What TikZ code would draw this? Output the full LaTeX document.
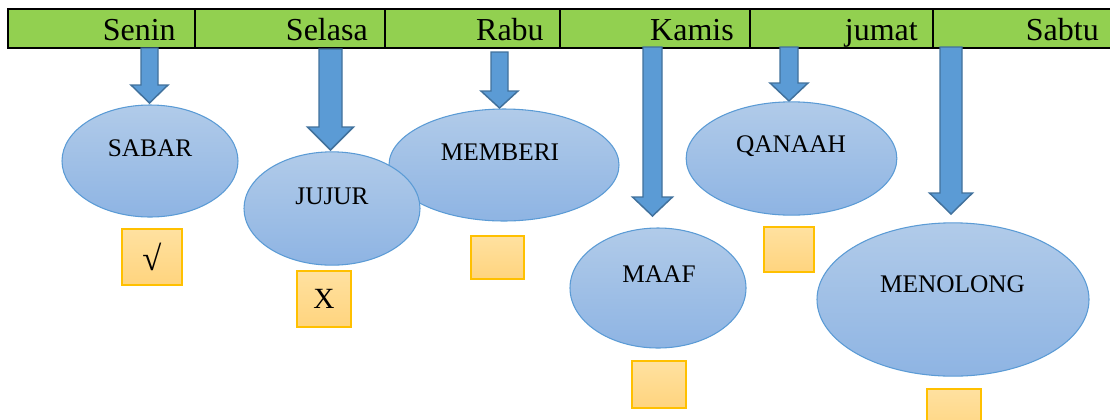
\documentclass[tikz,border=0pt]{standalone}
\usepackage{fontspec}
\setmainfont{Liberation Serif}
\usetikzlibrary{shapes.geometric}

\definecolor{barhijau}{HTML}{92D050}
\definecolor{panahbiru}{HTML}{5B9BD5}
\definecolor{panahtepi}{HTML}{41719C}
\definecolor{ovalatas}{HTML}{B1CBE9}
\definecolor{ovalbawah}{HTML}{8EB4E3}
\definecolor{ovaltepi}{HTML}{5B9BD5}
\definecolor{kotakatas}{HTML}{FFE1A0}
\definecolor{kotakbawah}{HTML}{FFD47E}
\definecolor{kotaktepi}{HTML}{FFC000}

% block arrow: x, top, head start, tip, half shaft, half head
\newcommand{\panah}[6]{%
  \draw[panahstyle] (#1-#5,#2) -- (#1+#5,#2) -- (#1+#5,#3) -- (#1+#6,#3)
    -- (#1,#4) -- (#1-#6,#3) -- (#1-#5,#3) -- cycle;}

\begin{document}
\begin{tikzpicture}[x=0.75pt, y=-0.75pt,
  oval/.style={ellipse, draw=ovaltepi, line width=0.8pt, top color=ovalatas, bottom color=ovalbawah, inner sep=0pt},
  kotak/.style={rectangle, draw=kotaktepi, line width=1.3pt, top color=kotakatas, bottom color=kotakbawah, inner sep=0pt, font=\fontsize{22}{26}\selectfont},
  hari/.style={anchor=base east, inner sep=0pt, font=\fontsize{24}{28}\selectfont},
  sifat/.style={inner sep=0pt, font=\fontsize{19}{23}\selectfont},
  panahstyle/.style={fill=panahbiru, draw=panahtepi, line width=1.1pt, line join=miter}]
  \useasboundingbox (0,0) rectangle (1110,419);
  \clip (0,0) rectangle (1110,419);

  % header bar
  \draw[fill=barhijau, line width=1.9pt] (8,9) rectangle (1130,48);
  \foreach \xd in {195,385,560,750,933}
    \draw[line width=1.9pt] (\xd,9) -- (\xd,48);
  \node[hari] (senin) at (176,40) {Senin};
  \node[hari] (selasa) at (368,40) {Selasa};
  \node[hari] (rabu) at (544,40) {Rabu};
  \node[hari] (kamis) at (734,40) {Kamis};
  \node[hari] (jumat) at (918,40) {jumat};
  \node[hari] (sabtu) at (1099,40) {Sabtu};

  % arrows
  \panah{149.5}{48}{85}{103}{8.5}{18.5}
  \panah{330.5}{49}{127}{150}{11.5}{23}
  \panah{499.5}{52}{91}{108}{8.5}{18.5}
  \panah{652.5}{47}{197}{216}{9.5}{20}
  \panah{789}{47}{83}{101}{9}{19}
  \panah{951}{47}{193}{214}{11}{21.5}

  % ovals
  \node[oval, minimum width=132pt, minimum height=84pt] (sabar) at (150,161) {};
  \node[oval, minimum width=172.5pt, minimum height=84pt] (memberi) at (504,165) {};
  \node[oval, minimum width=132pt, minimum height=85pt] (jujur) at (332,208.5) {};
  \node[oval, minimum width=132pt, minimum height=90pt] (maaf) at (658,288) {};
  \node[oval, minimum width=158pt, minimum height=85pt] (qanaah) at (791.5,158.5) {};
  \node[oval, minimum width=204pt, minimum height=115pt] (menolong) at (953,299.5) {};

  \node[sifat] (tsabar) at (150,148) {SABAR};
  \node[sifat] (tjujur) at (332,196.5) {JUJUR};
  \node[sifat] (tmemberi) at (500,152) {MEMBERI};
  \node[sifat] (tmaaf) at (659,274) {MAAF};
  \node[sifat] (tqanaah) at (791,146) {QANAAH};
  \node[sifat] (tmenolong) at (952.5,284) {MENOLONG};

  % check boxes
  \node[kotak, minimum width=45pt, minimum height=42pt, font=\fontsize{26}{30}\selectfont] (cek1) at (152,257) {√};
  \node[kotak, minimum width=40.5pt, minimum height=42pt] (cek2) at (324,299) {X};
  \node[kotak, minimum width=39.75pt, minimum height=32.25pt] (cek3) at (497.5,257.5) {};
  \node[kotak, minimum width=40.5pt, minimum height=35.25pt] (cek4) at (659,384.5) {};
  \node[kotak, minimum width=37.5pt, minimum height=33.75pt] (cek5) at (789,249.5) {};
  \node[kotak, minimum width=40.5pt, minimum height=36pt] (cek6) at (954,413) {};
\end{tikzpicture}
\end{document}
